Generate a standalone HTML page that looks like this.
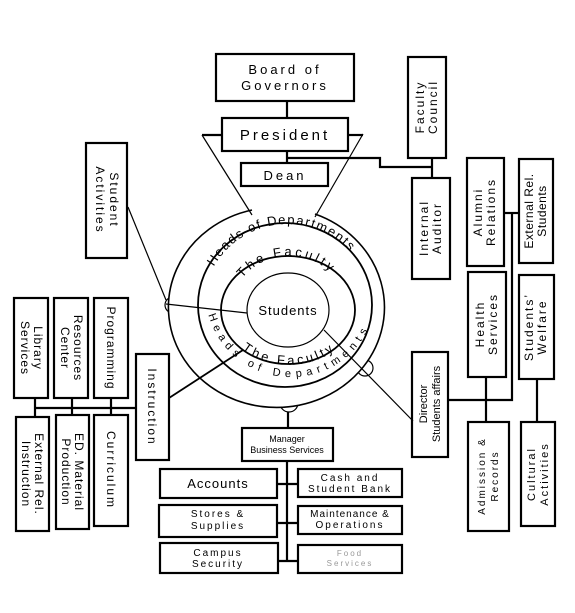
<!DOCTYPE html>
<html><head><meta charset="utf-8"><style>
html,body{margin:0;padding:0;background:#fff;}
svg{display:block;font-family:"Liberation Sans",sans-serif;}
text{fill:#000;}
</style></head><body>
<svg width="575" height="613" viewBox="0 0 575 613" xmlns="http://www.w3.org/2000/svg">
<defs>
<path id="hTop" d="M 203 318 A 82 82 0 0 1 372 300"/>
<path id="fTop" d="M 232 312 A 57 53 0 0 1 346 306"/>
<path id="hBot" d="M 206 288 A 82 80 0 0 0 376 300"/>
<path id="fBot" d="M 226 318 A 62 46 0 0 0 352 318"/>
</defs>
<g fill="none" stroke="#000" stroke-width="1.2">
<!-- bumps -->
<circle cx="173" cy="305" r="8" fill="#fff"/>
<circle cx="289" cy="403" r="9" fill="#fff"/>
<circle cx="365" cy="368" r="8" fill="#fff"/>
<path d="M 315 214 A 108 100 0 1 1 252 210" fill="#fff" stroke-width="1.6"/>
<ellipse cx="285" cy="305" rx="87" ry="82" stroke-width="1.8"/>
<ellipse cx="288" cy="310" rx="67" ry="54" stroke-width="1.8"/>
<ellipse cx="288" cy="310" rx="41" ry="37" fill="#fff"/>
<!-- funnel -->
<line x1="202" y1="135" x2="252" y2="215"/>
<line x1="363" y1="134" x2="315" y2="217"/>
<!-- spokes -->
<line x1="128" y1="207" x2="166" y2="300"/>
<line x1="166" y1="304" x2="247" y2="313"/>
<line x1="169" y1="398" x2="243" y2="350" stroke-width="1.8"/>
<line x1="324" y1="330" x2="413" y2="421"/>
</g>
<g fill="none" stroke="#000" stroke-width="2.2">
<rect x="216" y="54" width="138" height="47" fill="#fff"/>
<line x1="287" y1="101" x2="287" y2="118"/>
<rect x="222" y="118" width="126" height="33" fill="#fff"/>
<line x1="202" y1="135" x2="222" y2="135"/>
<line x1="348" y1="135" x2="363" y2="135"/>
<line x1="287" y1="151" x2="287" y2="163"/>
<rect x="241" y="163" width="87" height="23" fill="#fff"/>
<polyline points="287,158 380,158 380,167 432,167"/>
<rect x="408" y="57" width="38" height="101"/>
<line x1="432" y1="158" x2="432" y2="178"/>
<rect x="412" y="178" width="38" height="101"/>
<rect x="86" y="143" width="41" height="115"/>
<rect x="14" y="298" width="34" height="100"/>
<rect x="54" y="298" width="34" height="100"/>
<rect x="94" y="298" width="34" height="100"/>
<rect x="136" y="354" width="33" height="106"/>
<line x1="35" y1="408" x2="136" y2="408"/>
<line x1="35" y1="398" x2="35" y2="417"/>
<line x1="72" y1="398" x2="72" y2="415"/>
<line x1="111" y1="398" x2="111" y2="415"/>
<rect x="16" y="417" width="33" height="114"/>
<rect x="56" y="415" width="33" height="114"/>
<rect x="94" y="415" width="34" height="111"/>
<line x1="288" y1="412" x2="288" y2="428"/>
<rect x="242" y="428" width="91" height="33"/>
<line x1="287" y1="461" x2="287" y2="561"/>
<rect x="160" y="469" width="117" height="29"/>
<rect x="298" y="469" width="104" height="28"/>
<rect x="159" y="505" width="118" height="32"/>
<rect x="298" y="506" width="104" height="28"/>
<rect x="160" y="543" width="118" height="30"/>
<rect x="298" y="545" width="104" height="28"/>
<line x1="277" y1="484" x2="298" y2="484"/>
<line x1="277" y1="523" x2="298" y2="523"/>
<line x1="278" y1="561" x2="298" y2="561"/>
<rect x="467" y="158" width="37" height="108"/>
<rect x="519" y="159" width="34" height="104"/>
<line x1="504" y1="213" x2="519" y2="213"/>
<polyline points="512,213 512,400 448,400"/>
<rect x="468" y="272" width="38" height="105"/>
<rect x="519" y="275" width="35" height="104"/>
<rect x="412" y="352" width="36" height="105"/>
<line x1="486" y1="377" x2="486" y2="422"/>
<line x1="537" y1="379" x2="537" y2="422"/>
<rect x="468" y="422" width="41" height="109"/>
<rect x="521" y="422" width="34" height="104"/>
</g>
<g font-size="13">
<text letter-spacing="1.5"><textPath href="#hTop" startOffset="50%" text-anchor="middle">Heads of Departments</textPath></text>
<text letter-spacing="3" font-size="13"><textPath href="#fTop" startOffset="50%" text-anchor="middle">The Faculty</textPath></text>
<text letter-spacing="5" font-size="11"><textPath href="#hBot" startOffset="50%" text-anchor="middle">Heads of Departments</textPath></text>
<text letter-spacing="3" font-size="13"><textPath href="#fBot" startOffset="50%" text-anchor="middle">The Faculty</textPath></text>
</g>
<text x="288" y="315" font-size="13" text-anchor="middle" letter-spacing="1">Students</text>
<g font-size="13" text-anchor="middle" letter-spacing="3">
<text x="285" y="74">Board of</text>
<text x="285" y="90">Governors</text>
<text x="285" y="140" font-size="15">President</text>
<text x="285" y="180">Dean</text>
<text x="218" y="488" letter-spacing="1">Accounts</text>
</g>
<g font-size="10" text-anchor="middle" letter-spacing="2">
<text x="350" y="481">Cash and</text>
<text x="350" y="492">Student Bank</text>
<text x="218" y="517">Stores &amp;</text>
<text x="218" y="529">Supplies</text>
<text x="350" y="517" letter-spacing="1">Maintenance &amp;</text>
<text x="350" y="528">Operations</text>
<text x="218" y="556">Campus</text>
<text x="218" y="567">Security</text>
<text x="350" y="556" style="fill:#999" font-size="8">Food</text>
<text x="350" y="566" style="fill:#999" font-size="8">Services</text>
</g>
<g font-size="9" text-anchor="middle">
<text x="287" y="442">Manager</text>
<text x="287" y="453">Business Services</text>
</g>
<g font-size="12" text-anchor="middle" letter-spacing="2">
<g transform="translate(106,200) rotate(90)"><text y="-4">Student</text><text y="10">Activities</text></g>
<g transform="translate(31,348) rotate(90)"><text y="-3" letter-spacing="1">Library</text><text y="10" letter-spacing="1">Services</text></g>
<g transform="translate(71,348) rotate(90)"><text y="-3" letter-spacing="1">Resources</text><text y="10" letter-spacing="1">Center</text></g>
<g transform="translate(111,348) rotate(90)"><text y="4" letter-spacing="1">Programming</text></g>
<g transform="translate(152,407) rotate(90)"><text y="4">Instruction</text></g>
<g transform="translate(32,474) rotate(90)"><text y="-3" letter-spacing="1">External Rel.</text><text y="10" letter-spacing="1">Instruction</text></g>
<g transform="translate(72,472) rotate(90)"><text y="-3" letter-spacing="1">ED. Material</text><text y="10" letter-spacing="1">Production</text></g>
<g transform="translate(111,470) rotate(90)"><text y="4">Curriculum</text></g>
</g>
<g font-size="12" text-anchor="middle" letter-spacing="2">
<g transform="translate(427,107) rotate(-90)"><text y="-3">Faculty</text><text y="10">Council</text></g>
<g transform="translate(431,228) rotate(-90)"><text y="-3">Internal</text><text y="10">Auditor</text></g>
<g transform="translate(485,212) rotate(-90)"><text y="-3">Alumni</text><text y="10">Relations</text></g>
<g transform="translate(536,211) rotate(-90)"><text y="-3" letter-spacing="0.5">External Rel.</text><text y="10" letter-spacing="0.5">Students</text></g>
<g transform="translate(487,324) rotate(-90)"><text y="-3">Health</text><text y="10">Services</text></g>
<g transform="translate(536,327) rotate(-90)"><text y="-3">Students’</text><text y="10">Welfare</text></g>
<g transform="translate(430,404) rotate(-90)"><text y="-3" letter-spacing="0" font-size="11">Director</text><text y="10" letter-spacing="0" font-size="11">Students affairs</text></g>
<g transform="translate(488,476) rotate(-90)"><text y="-3" font-size="10">Admission &amp;</text><text y="10" font-size="10">Records</text></g>
<g transform="translate(538,474) rotate(-90)"><text y="-3" font-size="11">Cultural</text><text y="10" font-size="11">Activities</text></g>
</g>
</svg>
</body></html>
